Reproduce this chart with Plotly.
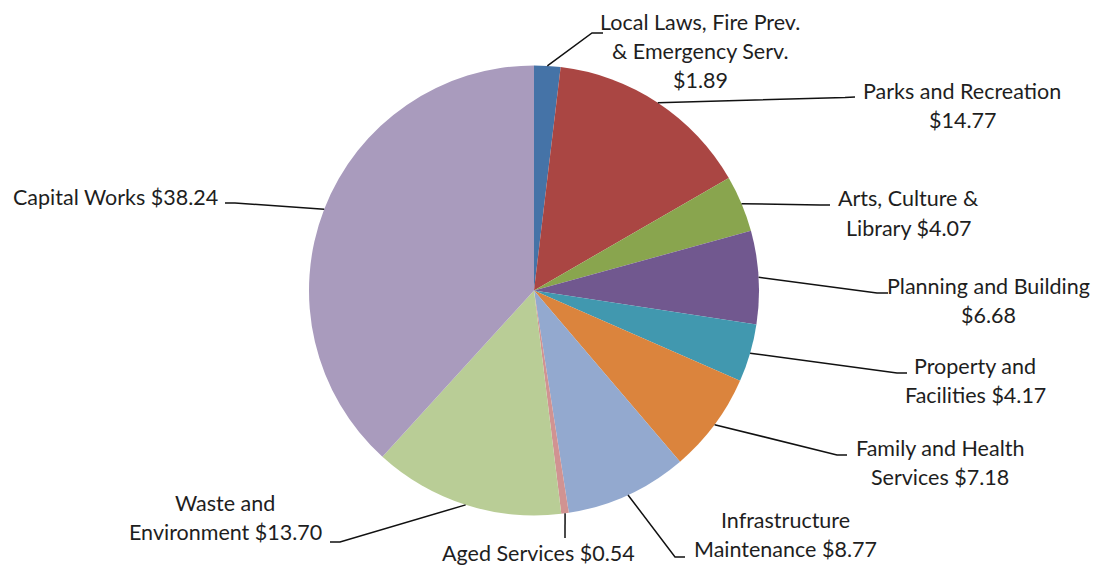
import math
import plotly.graph_objects as go

# Budget allocation per $100 of rates
categories = [
    "Local Laws, Fire Prev. & Emergency Serv.",
    "Parks and Recreation",
    "Arts, Culture & Library",
    "Planning and Building",
    "Property and Facilities",
    "Family and Health Services",
    "Infrastructure Maintenance",
    "Aged Services",
    "Waste and Environment",
    "Capital Works",
]
values = [1.89, 14.77, 4.07, 6.68, 4.17, 7.18, 8.77, 0.54, 13.70, 38.24]

# Wrapped label lines; {v} is replaced with the formatted value
label_lines = [
    ["Local Laws, Fire Prev.", "& Emergency Serv.", "{v}"],
    ["Parks and Recreation", "{v}"],
    ["Arts, Culture &", "Library {v}"],
    ["Planning and Building", "{v}"],
    ["Property and", "Facilities {v}"],
    ["Family and Health", "Services {v}"],
    ["Infrastructure", "Maintenance {v}"],
    ["Aged Services {v}"],
    ["Waste and", "Environment {v}"],
    ["Capital Works {v}"],
]

colors = ["#4573A7", "#AA4643", "#89A54E", "#71588F", "#4198AF",
          "#DB843D", "#93A9CF", "#D19392", "#B9CD96", "#A99BBD"]

W, H = 1101, 570
CX, CY, R = 534, 290.5, 225

# Label block centres (px) and leader elbow / end points (px)
label_pos = [(700, 51), (962, 105.5), (908, 213), (988, 300.5), (975, 380.5),
             (940, 462.5), (785, 534), (538, 553), (225, 517.5), (115, 197)]
elbows = [(592, 33), (845, 97.5), (820, 205), (877, 293), (897, 373),
          (837, 455), (675, 557), (565, 538), (340, 542), (235, 203)]
ends = [(603, 33), (855, 97), (830, 205), (888, 293), (907, 373),
        (847, 455), (685, 557), (565, 538), (330, 542), (225, 203)]

LINE_GAP = 29
FONT = dict(family="Lato, 'Open Sans', sans-serif", size=21.5, color="#1e1e1e")


def px(x, y):
    return x / W, 1 - y / H


fig = go.Figure(go.Pie(
    labels=categories,
    values=values,
    sort=False,
    direction="clockwise",
    rotation=0,
    textinfo="none",
    hoverinfo="label+value",
    marker=dict(colors=colors, line=dict(width=0)),
    domain=dict(x=[(CX - R) / W, (CX + R) / W], y=[1 - (CY + R) / H, 1 - (CY - R) / H]),
    showlegend=False,
))

total = sum(values)
cum = 0.0
shapes, annotations = [], []
for i, v in enumerate(values):
    mid = (cum + v / 2) / total * 2 * math.pi
    cum += v
    sx, sy = CX + R * math.sin(mid), CY - R * math.cos(mid)
    ex, ey = elbows[i]
    tx, ty = ends[i]
    p0, p1, p2 = px(sx, sy), px(ex, ey), px(tx, ty)
    shapes.append(dict(
        type="path", xref="paper", yref="paper",
        path=f"M {p0[0]} {p0[1]} L {p1[0]} {p1[1]} L {p2[0]} {p2[1]}",
        line=dict(color="#111111", width=1.5),
    ))
    lines = [s.replace("{v}", f"${v:.2f}") for s in label_lines[i]]
    lx, ly = label_pos[i]
    n = len(lines)
    for k, txt in enumerate(lines):
        yy = ly + (k - (n - 1) / 2) * LINE_GAP
        ax, ay = px(lx, yy)
        annotations.append(dict(
            x=ax, y=ay, xref="paper", yref="paper", text=txt, showarrow=False,
            xanchor="center", yanchor="middle", font=FONT,
        ))

fig.update_layout(
    width=W, height=H,
    margin=dict(l=0, r=0, t=0, b=0),
    paper_bgcolor="white",
    plot_bgcolor="white",
    shapes=shapes,
    annotations=annotations,
)

fig.write_html("out.html")
